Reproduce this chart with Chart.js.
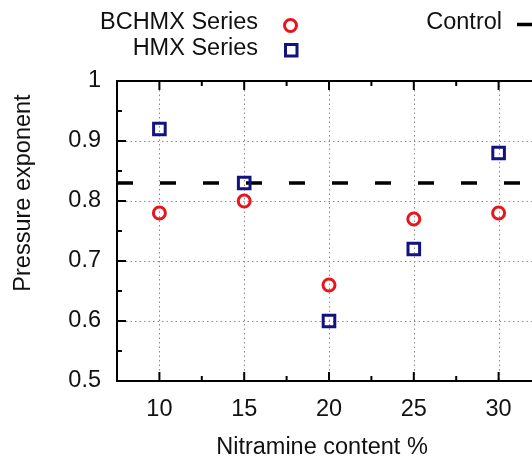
<!DOCTYPE html>
<html>
<head>
<meta charset="utf-8">
<title>Pressure exponent</title>
<script src="https://cdn.jsdelivr.net/npm/chart.js@4.4.0/dist/chart.umd.min.js"></script>
<style>
    html, body { margin: 0; padding: 0; background: #fff; overflow: hidden; }
    #wrap { width: 532px; height: 461px; overflow: hidden; }
</style>
</head>
<body>
<div id="wrap"><canvas id="exponentChart" width="600" height="461"></canvas></div>
<script>
// Nitramine content (%) and measured pressure exponents
var nitramine = [10, 15, 20, 25, 30];
var bchmxExponent = [0.78, 0.80, 0.66, 0.77, 0.78];
var hmxExponent = [0.92, 0.83, 0.60, 0.72, 0.88];
var controlExponent = 0.83;

// Axis ranges and labelled ticks
var xRange = [7.5, 32.5];
var yRange = [0.5, 1];
var xTickLabels = [10, 15, 20, 25, 30];
var yTickLabels = [0.5, 0.6, 0.7, 0.8, 0.9, 1];

var RED = 'rgb(232,22,28)';
var NAVY = 'rgb(18,18,128)';
var FONT = "'Liberation Sans', Arial, sans-serif";
var FONT_SIZE = 23.5;

function toPoints(xs, ys) {
    return xs.map(function (x, i) { return { x: x, y: ys[i] }; });
}

function isLabelled(list, v) {
    return list.some(function (t) { return Math.abs(t - v) < 1e-6; });
}

// Box, inward tick marks and dotted grid
var framePlugin = {
    id: 'frame',
    beforeDatasetsDraw: function (chart) {
        var ctx = chart.ctx, a = chart.chartArea;
        var xs = chart.scales.x, ys = chart.scales.y;
        ctx.save();
        ctx.strokeStyle = '#8a8a8a';
        ctx.lineWidth = 1;
        ctx.setLineDash([1.5, 3]);
        xTickLabels.forEach(function (v) {
            var px = Math.round(xs.getPixelForValue(v)) + 0.5;
            ctx.beginPath();
            ctx.moveTo(px, a.top);
            ctx.lineTo(px, a.bottom);
            ctx.stroke();
        });
        yTickLabels.forEach(function (v) {
            var py = Math.round(ys.getPixelForValue(v)) + 0.5;
            ctx.beginPath();
            ctx.moveTo(a.left, py);
            ctx.lineTo(a.right, py);
            ctx.stroke();
        });
        ctx.restore();
    },
    afterDatasetsDraw: function (chart) {
        var ctx = chart.ctx, a = chart.chartArea;
        var xs = chart.scales.x, ys = chart.scales.y;
        ctx.save();
        ctx.strokeStyle = '#000';
        ctx.lineWidth = 2;
        ctx.setLineDash([]);
        xs.ticks.forEach(function (t) {
            var px = xs.getPixelForValue(t.value);
            var len = isLabelled(xTickLabels, t.value) ? 9 : 5;
            ctx.beginPath();
            ctx.moveTo(px, a.bottom);
            ctx.lineTo(px, a.bottom - len);
            ctx.moveTo(px, a.top);
            ctx.lineTo(px, a.top + len);
            ctx.stroke();
        });
        ys.ticks.forEach(function (t) {
            var py = ys.getPixelForValue(t.value);
            var len = isLabelled(yTickLabels, t.value) ? 9 : 5;
            ctx.beginPath();
            ctx.moveTo(a.left, py);
            ctx.lineTo(a.left + len, py);
            ctx.moveTo(a.right, py);
            ctx.lineTo(a.right - len, py);
            ctx.stroke();
        });
        ctx.strokeRect(a.left, a.top, a.right - a.left, a.bottom - a.top);
        ctx.restore();
    },
    afterDraw: function (chart) {
        var ctx = chart.ctx;
        var ds = chart.data.datasets;
        ctx.save();
        ctx.fillStyle = '#111';
        ctx.font = FONT_SIZE + 'px ' + FONT;
        ctx.textBaseline = 'middle';

        // legend: two marker series, then the control line
        ctx.textAlign = 'right';
        ctx.fillText(ds[0].label, 258, 23);
        ctx.fillText(ds[1].label, 258, 49);
        ctx.fillText(ds[2].label, 502, 23);

        ctx.lineWidth = 3;
        ctx.strokeStyle = ds[0].borderColor;
        ctx.beginPath();
        ctx.arc(290.5, 25.5, 6, 0, Math.PI * 2);
        ctx.stroke();
        ctx.strokeStyle = ds[1].borderColor;
        ctx.strokeRect(285.5, 44.5, 11.5, 11.5);
        ctx.strokeStyle = ds[2].borderColor;
        ctx.lineWidth = 3.5;
        ctx.beginPath();
        ctx.moveTo(517, 24.5);
        ctx.lineTo(560, 24.5);
        ctx.stroke();

        // axis titles
        ctx.textAlign = 'center';
        ctx.fillText('Nitramine content %', 322, 448);
        ctx.translate(24, 193);
        ctx.rotate(-Math.PI / 2);
        ctx.fillText('Pressure exponent', 0, 0);
        ctx.restore();
    }
};

var ctxExponent = document.getElementById('exponentChart').getContext('2d');
new Chart(ctxExponent, {
    type: 'scatter',
    data: {
        datasets: [{
            label: 'BCHMX Series',
            data: toPoints(nitramine, bchmxExponent),
            pointStyle: 'circle',
            pointRadius: 6,
            borderWidth: 3,
            borderColor: RED,
            backgroundColor: 'rgba(0,0,0,0)'
        }, {
            label: 'HMX Series',
            data: toPoints(nitramine, hmxExponent),
            pointStyle: 'rect',
            pointRadius: 8.2,
            borderWidth: 3,
            borderColor: NAVY,
            backgroundColor: 'rgba(0,0,0,0)'
        }, {
            label: 'Control',
            type: 'line',
            data: [{ x: xRange[0], y: controlExponent }, { x: xRange[1], y: controlExponent }],
            borderColor: '#000',
            borderWidth: 3.5,
            borderDash: [16, 27],
            pointRadius: 0,
            fill: false
        }]
    },
    options: {
        responsive: false,
        animation: false,
        layout: { padding: { top: 81, right: 59, left: 0, bottom: 0 } },
        plugins: {
            legend: { display: false },
            tooltip: { enabled: false }
        },
        scales: {
            x: {
                type: 'linear',
                min: xRange[0],
                max: xRange[1],
                grid: { display: false, drawTicks: false },
                border: { display: false },
                ticks: {
                    stepSize: 2.5,
                    autoSkip: false,
                    maxRotation: 0,
                    padding: 14,
                    color: '#111',
                    font: { family: FONT, size: FONT_SIZE },
                    callback: function (v) { return isLabelled(xTickLabels, v) ? String(v) : ''; }
                },
                afterFit: function (s) { s.height = 80; }
            },
            y: {
                min: yRange[0],
                max: yRange[1],
                grid: { display: false, drawTicks: false },
                border: { display: false },
                ticks: {
                    stepSize: 0.05,
                    autoSkip: false,
                    padding: 16,
                    color: '#111',
                    font: { family: FONT, size: FONT_SIZE },
                    callback: function (v) {
                        return isLabelled(yTickLabels, v) ? String(Math.round(v * 10) / 10) : '';
                    }
                },
                afterFit: function (s) { s.width = 117; }
            }
        }
    },
    plugins: [framePlugin]
});
</script>
</body>
</html>
